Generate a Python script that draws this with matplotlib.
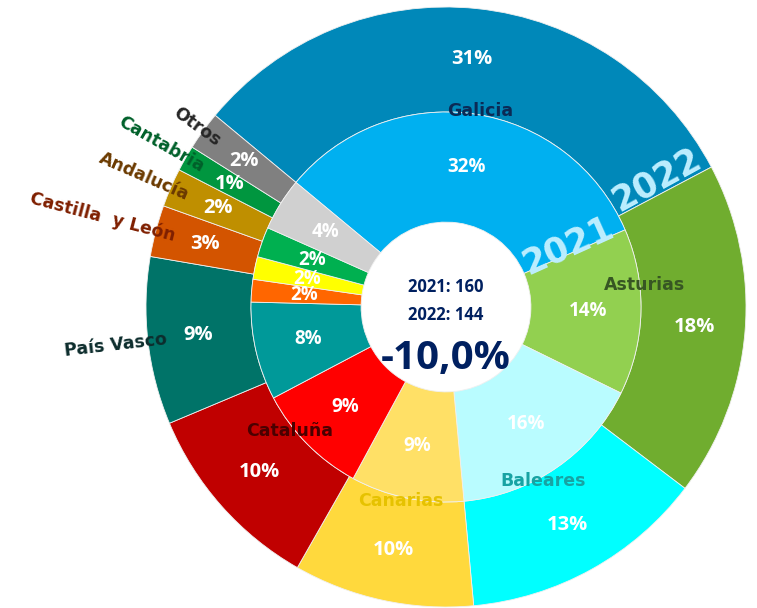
import numpy as np
import matplotlib.pyplot as plt

# Regions, ordered clockwise from the top
regions = ['Galicia', 'Asturias', 'Baleares', 'Canarias', 'Cataluña',
           'País Vasco', 'Castilla  y León', 'Andalucía', 'Cantabria', 'Otros']

# counts per region
values_2021 = [52, 22, 26, 15, 15, 13, 3, 3, 4, 7]
values_2022 = [45, 26, 19, 14, 15, 13, 4, 3, 2, 3]
total_2021 = 160
total_2022 = 144

colors_2022 = ['#0088B9', '#70AD2F', '#00FFFF', '#FFD93D', '#C00000',
               '#007368', '#D35400', '#BF8F00', '#00963F', '#808080']
colors_2021 = ['#00B0F0', '#92D050', '#B9FCFF', '#FFE066', '#FF0000',
               '#009999', '#FF6600', '#FFFF00', '#00B050', '#D0D0D0']
name_colors = ['#0B2A55', '#375623', '#17A3A3', '#E6C200', '#4A0000',
               '#0D2D2D', '#7F1F00', '#6B3A00', '#00602A', '#262626']

START = 140.3
R_OUT, R_MID, R_HOLE = 1.0, 0.65, 0.283

fig = plt.figure(figsize=(7.57, 6.08), dpi=100)
ax = fig.add_axes([0, 0, 1, 1])

wedge_kw = dict(edgecolor='#F0F0F0', linewidth=0.6)
ax.pie(values_2022, colors=colors_2022, startangle=START, counterclock=False,
       radius=R_OUT, wedgeprops=dict(width=R_OUT - R_MID, **wedge_kw))
ax.pie(values_2021, colors=colors_2021, startangle=START, counterclock=False,
       radius=R_MID, wedgeprops=dict(width=R_MID - R_HOLE, **wedge_kw))


def slice_angles(vals):
    v = np.array(vals, dtype=float)
    ends = START - 360 * np.cumsum(v) / v.sum()
    starts = ends + 360 * v / v.sum()
    return starts, ends


s22, e22 = slice_angles(values_2022)
s21, e21 = slice_angles(values_2021)
mid22 = (s22 + e22) / 2
mid21 = (s21 + e21) / 2


def polar(r, ang):
    a = np.deg2rad(ang)
    return r * np.cos(a), r * np.sin(a)


pct_font = dict(family='Open Sans', fontweight='bold', color='white',
                ha='center', va='center')
for v, a in zip(values_2022, mid22):
    x, y = polar(0.83, a)
    ax.text(x, y, '%.0f%%' % (100 * v / total_2022), fontsize=14.5, **pct_font)
for v, a in zip(values_2021, mid21):
    x, y = polar(0.473, a)
    ax.text(x, y, '%.0f%%' % (100 * v / total_2021), fontsize=13.5, **pct_font)

# big slices: name on the ring border; small slices: name outside, radial
name_font = dict(fontsize=12.5, family='DejaVu Sans', fontweight='bold')
name_shift = [-4, 11, 0, -1, -3]
for i, name in enumerate(regions):
    if i < 5:
        x, y = polar(0.665, mid22[i] + name_shift[i])
        ax.text(x, y, name, color=name_colors[i], ha='center', va='center',
                **name_font)
    else:
        x, y = polar(0.935, mid22[i])
        ax.text(x, y, name, color=name_colors[i], ha='right', va='center',
                rotation=mid22[i] - 180, rotation_mode='anchor', **name_font)

# year labels along the Galicia / Asturias border
for txt, ang, r in [('2021', e21[0], 0.455), ('2022', e22[0], 0.82)]:
    x, y = polar(r, ang + 3.5)
    ax.text(x, y, txt, fontsize=25, family='DejaVu Sans', fontweight='bold',
            color='#BDEEFF', ha='center', va='center', rotation=ang + 1,
            rotation_mode='anchor')

navy = '#002060'
ax.text(0, 0.065, f'2021: {total_2021}', fontsize=12, family='Open Sans',
        fontweight='bold', color=navy, ha='center', va='center')
ax.text(0, -0.028, f'2022: {total_2022}', fontsize=12, family='Open Sans',
        fontweight='bold', color=navy, ha='center', va='center')
change = (total_2022 - total_2021) / total_2021 * 100
ax.text(0, -0.17, f'{change:.1f}%'.replace('.', ','), fontsize=29,
        family='Open Sans', fontweight='bold', color=navy,
        ha='center', va='center')

cx, cy, scale = 446, 307, 300
ax.set_xlim(-cx / scale, (757 - cx) / scale)
ax.set_ylim((cy - 608) / scale, cy / scale)
ax.set_aspect('equal')
ax.axis('off')

plt.savefig('out.png', dpi=100)
